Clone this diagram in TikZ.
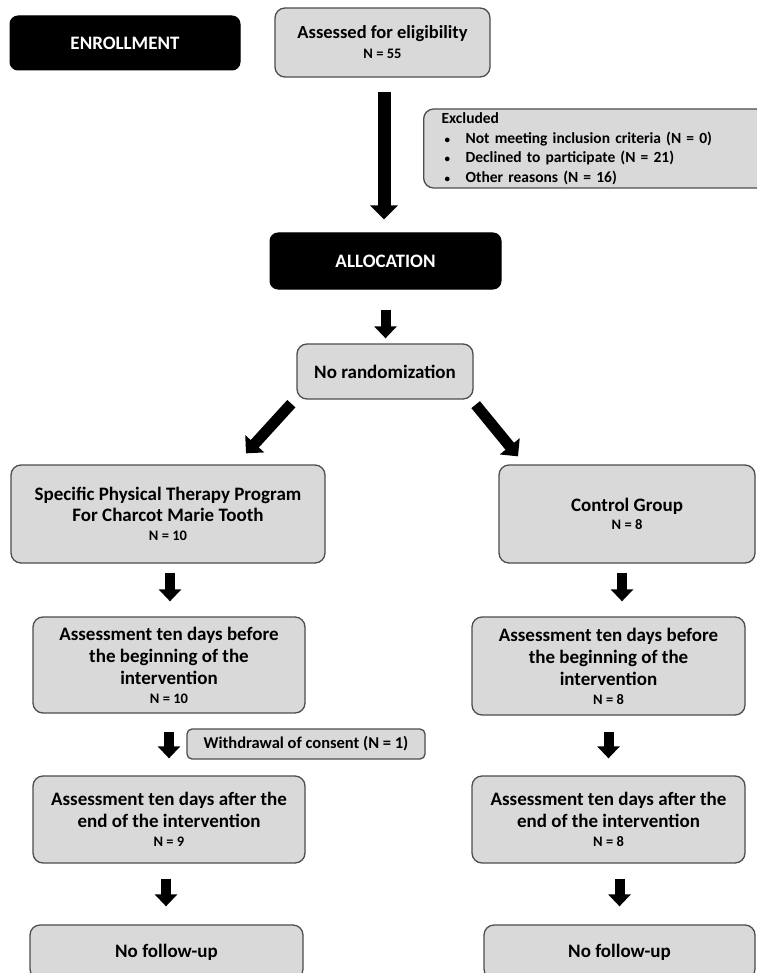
\documentclass[tikz,border=0pt]{standalone}
\usepackage{fontspec}
\setmainfont{Carlito}
\usetikzlibrary{arrows.meta}
\definecolor{boxfill}{HTML}{D9D9D9}
\definecolor{boxline}{HTML}{4D4D4D}
\newcommand\mtxt{\fontsize{19}{22}\selectfont\bfseries}
\newcommand\ntxt{\fontsize{14.5}{16}\selectfont\bfseries}
\newcommand\bul{\makebox[24pt][l]{\hspace{3pt}{\fontsize{11}{11}\selectfont\textbullet}}}
\begin{document}
\begin{tikzpicture}[x=1pt,y=-1pt,
  gbox/.style={draw=boxline, fill=boxfill, rounded corners=10pt, line width=1.3pt, align=center, inner sep=0pt, font=\mtxt},
  kbox/.style={draw=black, fill=black, text=white, rounded corners=8pt, line width=1pt, inner sep=0pt, font=\fontsize{19}{22}\selectfont\bfseries},
  bigarrow/.style={line width=13pt, -{Triangle[width=27pt,length=14pt]}},
  diagarrow/.style={line width=11pt, -{Triangle[width=25pt,length=13pt]}},
  smallarrow/.style={line width=10pt, -{Triangle[width=22pt,length=12pt]}}
]
\useasboundingbox (0,0) rectangle (756,973);

\node[kbox, minimum width=230pt, minimum height=54pt] (enroll) at (125,43) {ENROLLMENT};
\node[gbox, minimum width=215pt, minimum height=69pt, font=\fontsize{18.5}{20}\selectfont\bfseries] (elig) at (382.5,42.5) {Assessed for eligibility\\{\ntxt N = 55}};
\node[gbox, anchor=west, minimum width=345pt, minimum height=79pt, text width=309pt, inner xsep=18pt, align=left, font=\fontsize{15.5}{19.5}\selectfont\bfseries] (excl) at (423,148.5)
 {Excluded\\
  \bul Not meeting inclusion criteria (N = 0)\\
  \bul Declined to participate (N = 21)\\
  \bul Other reasons (N = 16)};
\node[kbox, minimum width=231pt, minimum height=56pt] (alloc) at (385.5,261) {ALLOCATION};
\node[gbox, minimum width=176pt, minimum height=55pt] (rand) at (385,371.5) {No randomization};

\node[gbox, minimum width=314pt, minimum height=98pt] (spec) at (168,514) {Specific Physical Therapy Program\\[-1pt]For Charcot Marie Tooth\\[-3pt]{\ntxt N = 10}};
\node[gbox, minimum width=256pt, minimum height=98pt] (ctrl) at (627,514) {Control Group\\[-4pt]{\ntxt N = 8}};

\node[gbox, minimum width=272pt, minimum height=96pt] (bL) at (169,665) {Assessment ten days before\\the beginning of the\\intervention\\[-3pt]{\ntxt N = 10}};
\node[gbox, minimum width=273pt, minimum height=98pt] (bR) at (608.5,666) {Assessment ten days before\\the beginning of the\\intervention\\[-3pt]{\ntxt N = 8}};

\node[gbox, minimum width=238pt, minimum height=30pt, rounded corners=5pt, font=\fontsize{16.5}{18}\selectfont\bfseries] (wd) at (306,744) {Withdrawal of consent (N = 1)};

\node[gbox, minimum width=272pt, minimum height=87pt] (aL) at (169,819.5) {Assessment ten days after the\\end of the intervention\\[-3pt]{\ntxt N = 9}};
\node[gbox, minimum width=273pt, minimum height=87pt] (aR) at (608.5,819.5) {Assessment ten days after the\\end of the intervention\\[-3pt]{\ntxt N = 8}};

\node[gbox, minimum width=273pt, minimum height=54pt] (fL) at (166.5,952) {No follow-up};
\node[gbox, minimum width=271pt, minimum height=54pt] (fR) at (619.5,952) {No follow-up};

% arrows
\draw[bigarrow, shorten <=14pt, shorten >=13pt] ([xshift=1.5pt]elig.south) -- ([xshift=1.5pt]elig.south |- alloc.north);
\draw[smallarrow, shorten <=20pt, shorten >=5pt] (alloc.south) -- (alloc.south |- rand.north);
\draw[diagarrow] ([shift={(-5,4)}]rand.south west) -- ([shift={(78,-11)}]spec.north);
\draw[diagarrow] ([shift={(2,5)}]rand.south east) -- ([shift={(-109,-8)}]ctrl.north);

\draw[smallarrow, shorten <=9pt, shorten >=15pt] ([xshift=2pt]spec.south) -- ([xshift=2pt]spec.south |- bL.north);
\draw[smallarrow, shorten <=9pt, shorten >=15pt] ([xshift=-5pt]ctrl.south) -- ([xshift=-5pt]ctrl.south |- bR.north);
\draw[smallarrow, shorten <=18pt, shorten >=17pt] (bL.south) -- (bL.south |- aL.north);
\draw[smallarrow, shorten <=16pt, shorten >=17pt] (bR.south) -- (bR.south |- aR.north);
\draw[smallarrow, shorten <=15pt, shorten >=18pt] ([xshift=-3pt]aL.south) -- ([xshift=-3pt]aL.south |- fL.north);
\draw[smallarrow, shorten <=15pt, shorten >=18pt] (aR.south -| fR.north) -- (fR.north);
\end{tikzpicture}
\end{document}
